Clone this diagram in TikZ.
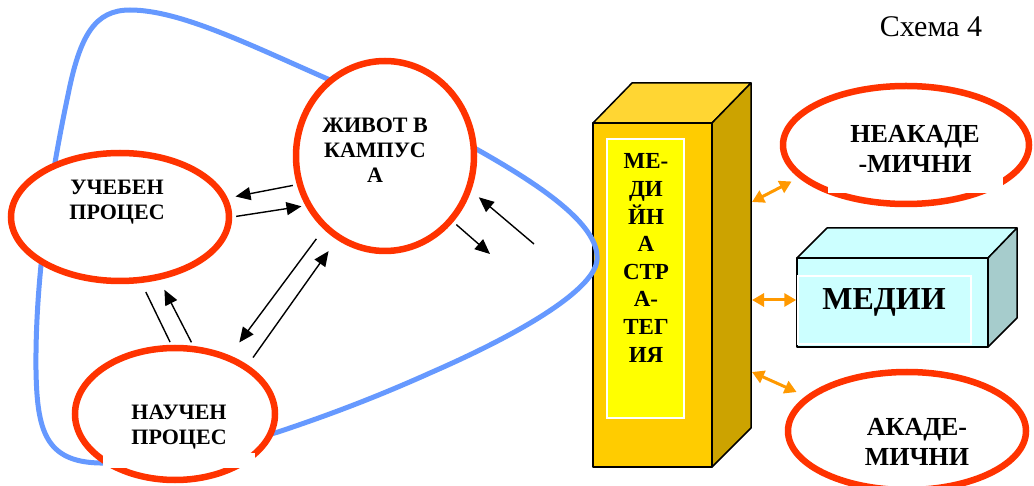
\documentclass[tikz,border=0pt]{standalone}
\usepackage{fontspec}
\setmainfont{Liberation Serif}
\usetikzlibrary{arrows.meta,shapes.geometric}
\definecolor{redE}{HTML}{FF3300}
\definecolor{blueL}{HTML}{6699FF}
\definecolor{goldF}{HTML}{FFCC00}
\definecolor{goldT}{HTML}{FFD633}
\definecolor{goldR}{HTML}{CCA300}
\definecolor{panelY}{HTML}{FFFF00}
\definecolor{cyanF}{HTML}{CCFFFF}
\definecolor{cyanR}{HTML}{A6CCCC}
\definecolor{orangeA}{HTML}{FF9900}
\begin{document}
\begin{tikzpicture}[x=1pt,y=-1pt,
 ell/.style={ellipse, draw=redE, line width=6.5pt, fill=white, inner sep=0pt},
 lbl/.style={font=\bfseries\fontsize{22}{25}\selectfont, align=center, inner sep=0pt},
 lblr/.style={font=\bfseries\fontsize{26}{30}\selectfont, align=center, inner sep=0pt},
 arr/.style={line width=1.4pt, -{Triangle[length=15pt,width=13pt]}},
 plain/.style={line width=1.4pt},
 oarr/.style={draw=orangeA, line width=3pt, {Triangle[length=12pt,width=13pt]}-{Triangle[length=12pt,width=13pt]}},
 boxedge/.style={draw=black, line width=1.5pt, line join=round},
 gap/.style={fill=white, draw=none}
]
\clip (0,0) rectangle (1034,486);
% ---- media strategy column ----
\coordinate (cA) at (593,123); \coordinate (cB) at (712,123);
\coordinate (cC) at (712,467); \coordinate (cD) at (593,467);
\coordinate (cE) at (632,83);  \coordinate (cF) at (751,83);
\coordinate (cG) at (751,428);
\fill[goldT, boxedge] (cA) -- (cE) -- (cF) -- (cB) -- cycle;
\fill[goldR, boxedge] (cB) -- (cF) -- (cG) -- (cC) -- cycle;
\fill[goldF, boxedge] (cA) -- (cB) -- (cC) -- (cD) -- cycle;
\node[fill=panelY, draw=white, line width=1.5pt, minimum width=77pt, minimum height=279pt, inner sep=0pt] (panel) at (645.5,278.5) {};
\node[font=\bfseries\fontsize{23}{27.6}\selectfont, align=center, inner sep=0pt] (strat) at (646,258) {МЕ-\\ДИ\\ЙН\\А\\СТР\\А-\\ТЕГ\\ИЯ};
% ---- blue loop ----
\draw[blueL, line width=5pt] (140,463) -- (100,463)
 .. controls (45,462) and (37,430) .. (36,370)
 .. controls (35,280) and (50,180) .. (68,95)
 .. controls (80,35) and (95,10) .. (130,10)
 .. controls (180,10) and (250,45) .. (330,80)
 .. controls (380,103) and (430,125) .. (478,150)
 .. controls (540,185) and (600,225) .. (597,260)
 .. controls (595,285) and (540,325) .. (430,373)
 .. controls (370,400) and (320,418) .. (278,432)
 -- (200,455) -- cycle;
% ---- process ellipses ----
\node[ell, minimum width=178pt, minimum height=190pt] (zh) at (385,156) {};
\node[ell, minimum width=218pt, minimum height=128pt] (uc) at (120,217) {};
\node[ell, minimum width=200pt, minimum height=132pt] (na) at (175,414) {};
\node[gap, minimum width=152pt, minimum height=15pt, inner sep=0pt] (gapN) at (179,460) {};
\node[lbl] (zht) at (375,150) {ЖИВОТ В\\КАМПУС\\А};
\node[lbl] (uct) at (117,202) {УЧЕБЕН\\ПРОЦЕС};
\node[lbl] (nat) at (179,427) {НАУЧЕН\\ПРОЦЕС};
% ---- black arrows ----
\draw[arr, shorten <=4pt, shorten >=8pt] (zh.198) -- (uc.10);
\draw[arr, shorten <=4pt, shorten >=4pt] (uc.0) -- (zh.212.5);
\draw[arr, shorten <=12pt, shorten >=16pt] (zh.230) -- (na.47.2);
\draw[arr, shorten <=9pt, shorten >=14pt] (na.34.9) -- (zh.240.6);
\draw[plain, shorten <=10pt, shorten >=3pt] (uc.-72.3) -- (na.93.3);
\draw[arr, shorten <=4pt, shorten >=11pt] (na.75.4) -- (uc.-58.4);
\coordinate (f1) at (490,254);
\coordinate (f2) at (534,244);
\draw[arr, shorten <=4pt] (zh.-44.6) -- (f1);
\draw[arr, shorten >=10pt] (f2) -- (zh.-22.4);
% ---- right side ----
\node[ell, minimum width=246pt, minimum height=118pt] (ne) at (906,145) {};
\node[gap, minimum width=175pt, minimum height=17pt, inner sep=0pt] (gapNE) at (915.5,184.5) {};
\node[lblr] (net) at (915,149) {НЕАКАДЕ\\-МИЧНИ};
\node[ell, minimum width=238pt, minimum height=118pt] (ak) at (907,431) {};
\node[lblr] (akt) at (917,442) {АКАДЕ-\\МИЧНИ};
% media box
\coordinate (mA) at (797,258); \coordinate (mB) at (988,258);
\coordinate (mC) at (988,347); \coordinate (mD) at (797,347);
\coordinate (mE) at (827,228); \coordinate (mF) at (1017,228);
\coordinate (mG) at (1017,318);
\fill[cyanF, boxedge] (mA) -- (mE) -- (mF) -- (mB) -- cycle;
\fill[cyanR, boxedge] (mB) -- (mF) -- (mG) -- (mC) -- cycle;
\node[fill=cyanF, boxedge, minimum width=191pt, minimum height=89pt, inner sep=0pt] (mf) at (892.5,302.5) {};
\draw[white, line width=1.5pt] (798,276) rectangle (971,344);
\node[font=\bfseries\fontsize{32}{34}\selectfont, inner sep=0pt] (medt) at (884,302) {МЕДИИ};
% orange links
\coordinate (o1) at (752,202);
\coordinate (o2) at (752,300);
\coordinate (o3) at (752,372);
\draw[oarr, shorten >=8pt] (o1) -- (ne.197.8);
\draw[oarr] (o2) -- (mf.west |- o2);
\draw[oarr, shorten >=10pt] (o3) -- (ak.161.7);
% title
\node[font=\fontsize{30}{32}\selectfont, inner sep=0pt] (title) at (931,27) {Схема 4};
\end{tikzpicture}
\end{document}
